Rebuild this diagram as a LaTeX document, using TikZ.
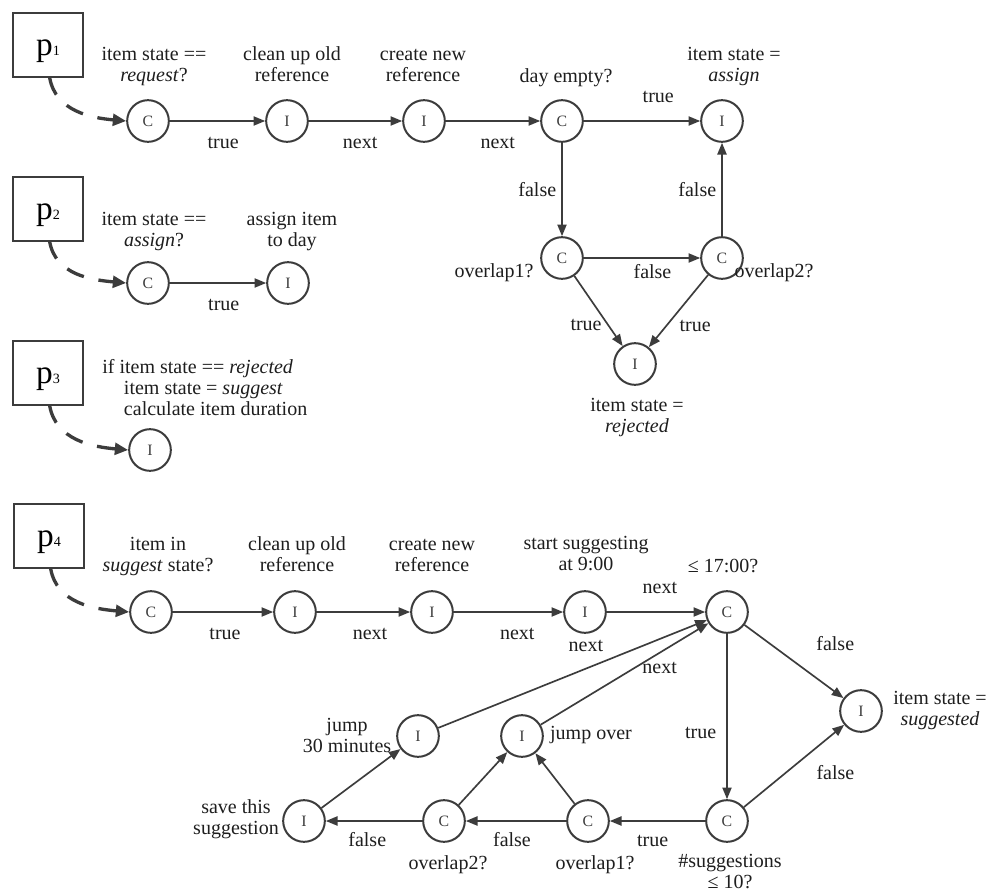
\documentclass[tikz,border=0pt]{standalone}
\usepackage{fontspec}
\setmainfont{Liberation Serif}
\usetikzlibrary{arrows.meta,positioning}
\definecolor{netgray}{HTML}{3C3C3C}
\definecolor{netink}{HTML}{1E1E1E}
\newcommand{\lblfont}{\fontsize{12}{12.6}\selectfont}
\newcommand{\brk}{\strut\\\strut}
\tikzset{
  cond/.style={circle,draw=netgray,line width=1.2pt,minimum size=25pt,inner sep=0pt,font=\fontsize{9.5}{9.5}\selectfont,text=netgray},
  act/.style={cond},
  proc/.style={rectangle,draw=netgray,line width=1.2pt,minimum width=42pt,minimum height=38pt,inner sep=0pt,font=\fontsize{20}{20}\selectfont,text height=13pt,text depth=0pt},
  txt/.style={align=center,inner sep=0pt,font=\lblfont,text=netink,execute at begin node=\strut,execute at end node=\strut},
  elbl/.style={txt},
  edge/.style={-{Triangle[length=7pt,width=5.5pt]},line width=1pt,draw=netgray},
  entry/.style={-{Triangle[length=8pt,width=7pt]},line width=2pt,dash pattern=on 11pt off 9pt,draw=netgray}
}

\begin{document}
\begin{tikzpicture}[x=0.6pt,y=-0.6pt]
\fill[white] (0,0) rectangle (986,895);
\useasboundingbox (0,0) rectangle (986,895);
% process boxes
\node[proc] (p1) at (48,45) {p{\fontsize{8.5}{8.5}\selectfont 1}};
\node[proc] (p2) at (48,209) {p{\fontsize{8.5}{8.5}\selectfont 2}};
\node[proc] (p3) at (48,373) {p{\fontsize{8.5}{8.5}\selectfont 3}};
\node[proc] (p4) at (49,536) {p{\fontsize{8.5}{8.5}\selectfont 4}};
% p1
\node[cond] (c1) at (148,121) {C};
\node[act] (i1) at (287,121) {I};
\node[act] (i2) at (424,121) {I};
\node[cond] (c2) at (562,121) {C};
\node[act] (i3) at (722,121) {I};
\node[cond] (c3) at (562,258) {C};
\node[cond] (c4) at (722,258) {C};
\node[act] (i4) at (635,364) {I};
\node[txt] (t1) at (154,67) {item state ==\brk\emph{request}?};
\node[txt] (t2) at (292,67) {clean up old\brk reference};
\node[txt] (t3) at (423,67) {create new\brk reference};
\node[txt] (t4) at (566,78) {day empty?};
\node[txt] (t5) at (734,67) {item state =\brk\emph{assign}};
\node[txt] (t6) at (494,273) {overlap1?};
\node[txt] (t7) at (774,273) {overlap2?};
\node[txt] (t8) at (637,418) {item state =\brk\emph{rejected}};
% p2
\node[cond] (c5) at (148,283) {C};
\node[act] (i5) at (288,283) {I};
\node[txt] (t9) at (154,232) {item state ==\brk\emph{assign}?};
\node[txt] (t10) at (292,232) {assign item\brk to day};
% p3
\node[act] (i6) at (150,450) {I};
\node[txt,align=left,anchor=west] (t11) at (102,390) {if item state == \emph{rejected}\brk\hspace*{13pt}item state = \emph{suggest}\brk\hspace*{13pt}calculate item duration};
% p4
\node[cond] (c6) at (151,612) {C};
\node[act] (i7) at (295,612) {I};
\node[act] (i8) at (432,612) {I};
\node[act] (i9) at (585,612) {I};
\node[cond] (c7) at (727,612) {C};
\node[act] (i13) at (861,711) {I};
\node[cond] (c8) at (727,821) {C};
\node[cond] (c9) at (588,821) {C};
\node[cond] (c10) at (444,821) {C};
\node[act] (i12) at (304,821) {I};
\node[act] (i10) at (418,736) {I};
\node[act] (i11) at (522,736) {I};
\node[txt] (t12) at (158,557) {item in\brk\emph{suggest} state?};
\node[txt] (t13) at (297,557) {clean up old\brk reference};
\node[txt] (t14) at (432,557) {create new\brk reference};
\node[txt] (t15) at (586,556) {start suggesting\brk at 9:00};
\node[txt] (t16) at (723,568) {≤ 17:00?};
\node[txt] (t17) at (347,738) {jump\brk 30 minutes};
\node[txt] (t18) at (591,735) {jump over};
\node[txt] (t19) at (236,820) {save this\brk suggestion};
\node[txt] (t20) at (448,865) {overlap2?};
\node[txt] (t21) at (595,865) {overlap1?};
\node[txt] (t22) at (730,874) {\#suggestions\brk ≤ 10?};
\node[txt] (t23) at (940,711) {item state =\brk\emph{suggested}};
% entries
\draw[entry] ([xshift=1pt]p1.south) to[out=-80,in=175] (c1.west);
\draw[entry] ([xshift=1pt]p2.south) to[out=-80,in=175] (c5.west);
\draw[entry] ([xshift=1pt]p3.south) to[out=-80,in=175] (i6.west);
\draw[entry] ([xshift=1pt]p4.south) to[out=-80,in=175] (c6.west);
% p1 edges
\draw[edge] (c1) -- node[elbl,pos=.56,below=7pt] {true} (i1);
\draw[edge] (i1) -- node[elbl,pos=.55,below=7pt] {next} (i2);
\draw[edge] (i2) -- node[elbl,pos=.55,below=7pt] {next} (c2);
\draw[edge] (c2) -- node[elbl,pos=.64,above=7pt] {true} (i3);
\draw[edge] (c2) -- node[elbl,pos=.53,left=3pt] {false} (c3);
\draw[edge] (c3) -- node[elbl,pos=.59,below=3pt] {false} (c4);
\draw[edge] (c4) -- node[elbl,pos=.47,left=3pt] {false} (i3);
\draw[edge] (c3) -- node[elbl,pos=.72,left=4pt] {true} (i4);
\draw[edge] (c4) -- node[elbl,pos=.72,right=8pt] {true} (i4);
% p2 edges
\draw[edge] (c5) -- node[elbl,pos=.56,below=7pt] {true} (i5);
% p4 edges
\draw[edge] (c6) -- node[elbl,pos=.52,below=7pt] {true} (i7);
\draw[edge] (i7) -- node[elbl,pos=.57,below=7pt] {next} (i8);
\draw[edge] (i8) -- node[elbl,pos=.58,below=7pt] {next} (i9);
\draw[edge] (i9) -- node[elbl,pos=.54,above=7pt] {next} (c7);
\draw[edge] (c7) -- node[elbl,pos=.61,left=6pt] {true} (c8);
\draw[edge] (c7) -- node[elbl,pos=.6,anchor=south west,xshift=7pt,yshift=7pt] {false} (i13);
\draw[edge] (c8) -- node[elbl,pos=.6,anchor=north west,xshift=7pt,yshift=-4pt] {false} (i13);
\draw[edge] (c8) -- node[elbl,pos=.55,below=6pt] {true} (c9);
\draw[edge] (c9) -- node[elbl,pos=.54,below=6pt] {false} (c10);
\draw[edge] (c10) -- node[elbl,pos=.57,below=6pt] {false} (i12);
\draw[edge] (c9) -- (i11);
\draw[edge] (c10) -- (i11);
\draw[edge] (i12) -- (i10);
\draw[edge] (i10) -- node[elbl,pos=.55,above=6pt] {next} (c7);
\draw[edge] (i11) -- node[elbl,pos=.71,below=3pt] {next} (c7);
\end{tikzpicture}
\end{document}
